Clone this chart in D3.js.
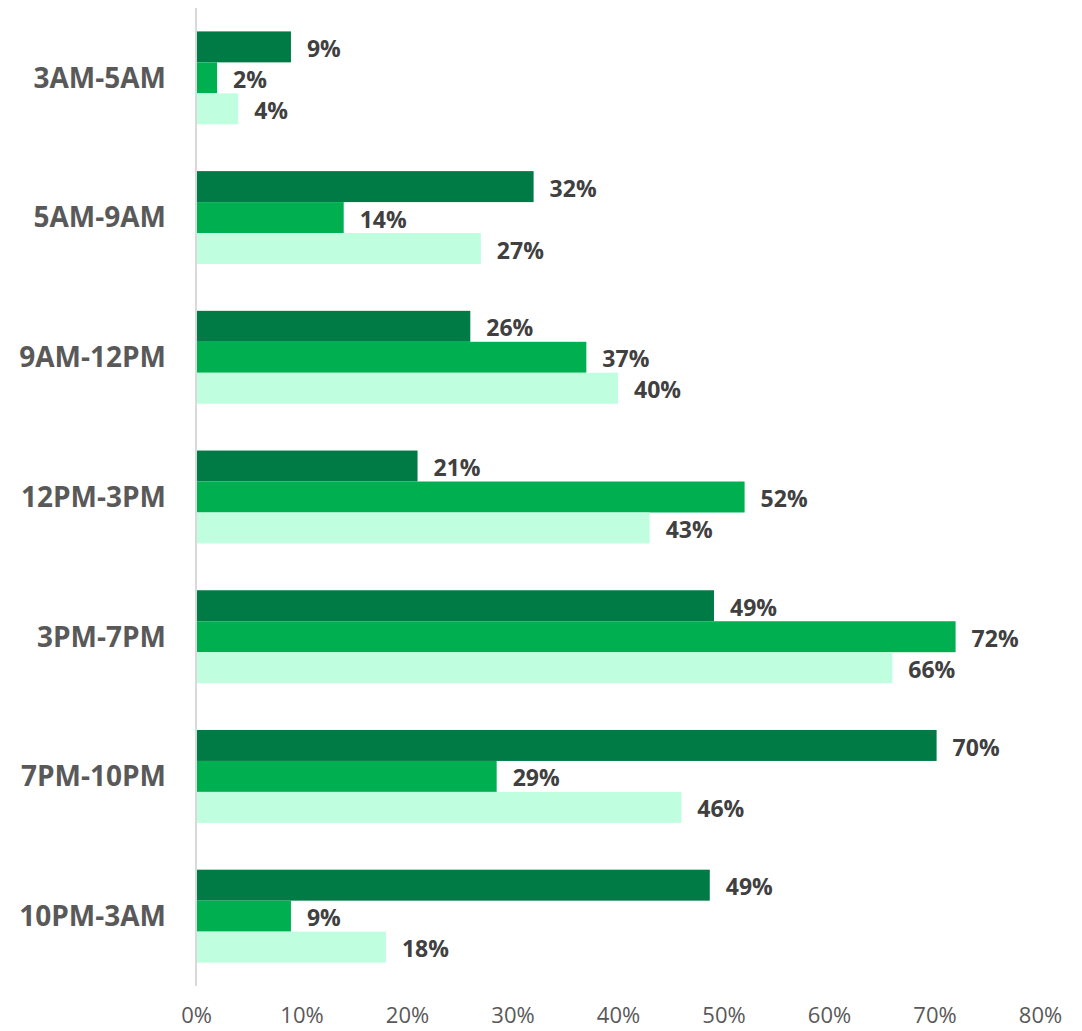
<!DOCTYPE html>
<html>
<head>
<meta charset="utf-8">
<script src="https://cdn.jsdelivr.net/npm/d3@7"></script>
<style>
  body { margin: 0; background: #fff; }
  svg text { font-family: 'Open Sans', 'Noto Sans', sans-serif; }
</style>
</head>
<body>
<div id="main"></div>
<script>
const categories = ['3AM-5AM', '5AM-9AM', '9AM-12PM', '12PM-3PM', '3PM-7PM', '7PM-10PM', '10PM-3AM'];
const seriesNames = ['Series 1', 'Series 2', 'Series 3'];
const series1 = [9, 32, 26, 21, 49.1, 70.2, 48.7];
const series2 = [2, 14, 37, 52, 72, 28.5, 9];
const series3 = [4, 27, 40, 43, 66, 46, 18];
const xTicks = [0, 10, 20, 30, 40, 50, 60, 70, 80];

const colors = ['#007b46', '#00b050', '#bfffe0'];
const allSeries = [series1, series2, series3];

const width = 1082;
const height = 1031;

const svg = d3.select('#main')
  .append('svg')
  .attr('width', width)
  .attr('height', height);

const x = d3.scaleLinear().domain([0, 80]).range([196, 1040]);

const y = d3.scaleBand()
  .domain(categories)
  .range([8, 986])
  .paddingInner(0.335)
  .paddingOuter(0.1675);

const inner = d3.scaleBand()
  .domain(d3.range(seriesNames.length))
  .range([0, y.bandwidth()]);

const fmt = (v) => Math.round(v) + '%';

// axis line
svg.append('line')
  .attr('x1', x(0)).attr('x2', x(0))
  .attr('y1', 8).attr('y2', 986)
  .attr('stroke', '#d9d9d9')
  .attr('stroke-width', 2);

const groups = svg.selectAll('.group')
  .data(categories)
  .enter()
  .append('g')
  .attr('class', 'group')
  .attr('transform', (d) => `translate(0,${y(d)})`);

groups.each(function (cat, ci) {
  const g = d3.select(this);
  allSeries.forEach((vals, si) => {
    g.append('rect')
      .attr('x', x(0) + 1)
      .attr('y', inner(si))
      .attr('width', x(vals[ci]) - x(0) - 1)
      .attr('height', inner.bandwidth())
      .attr('fill', colors[si]);

    g.append('text')
      .attr('x', x(vals[ci]) + 16)
      .attr('y', inner(si) + inner.bandwidth() / 2 + 2)
      .attr('dy', '0.35em')
      .attr('font-size', 23)
      .attr('font-weight', 'bold')
      .attr('fill', '#404040')
      .text(fmt(vals[ci]));
  });
});

// category labels
svg.selectAll('.cat')
  .data(categories)
  .enter()
  .append('text')
  .attr('class', 'cat')
  .attr('x', 166)
  .attr('y', (d) => y(d) + y.bandwidth() / 2)
  .attr('dy', '0.35em')
  .attr('text-anchor', 'end')
  .attr('font-size', 28)
  .attr('font-weight', 'bold')
  .attr('fill', '#595959')
  .text((d) => d);

// x tick labels
const xAxis = d3.axisBottom(x)
  .tickValues(xTicks)
  .tickFormat((d) => d + '%')
  .tickSize(0)
  .tickPadding(0);

const ax = svg.append('g')
  .attr('transform', 'translate(0,1007)')
  .call(xAxis);
ax.select('.domain').remove();
ax.selectAll('text')
  .attr('font-size', 22)
  .attr('fill', '#595959')
  .attr('font-family', "'Open Sans', 'Noto Sans', sans-serif");
</script>
</body>
</html>
